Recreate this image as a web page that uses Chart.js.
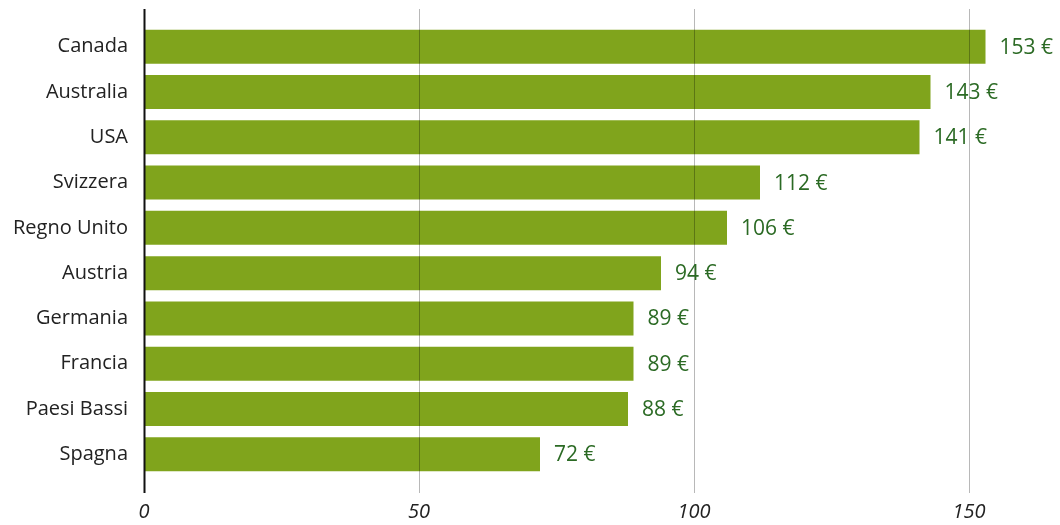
<!DOCTYPE html>
<html>
<head>
<meta charset="utf-8">
<script src="https://cdn.jsdelivr.net/npm/chart.js@4/dist/chart.umd.min.js"></script>
<style>
  html, body { margin: 0; padding: 0; background: #fff; }
  #wrap { width: 1060px; height: 525px; }
</style>
</head>
<body>
<div id="wrap"><canvas id="barchart"></canvas></div>
<script>
const countries = ['Canada', 'Australia', 'USA', 'Svizzera', 'Regno Unito', 'Austria', 'Germania', 'Francia', 'Paesi Bassi', 'Spagna'];
const prices = [153, 143, 141, 112, 106, 94, 89, 89, 88, 72];
const xTicks = [0, 50, 100, 150];

const barColor = '#80a41c';
const labelColor = '#2b6a24';

// grid lines + axis line, drawn over the bars and past the plot area
const frameLines = {
  id: 'frameLines',
  afterDatasetsDraw(chart) {
    const {ctx, scales: {x}} = chart;
    ctx.save();
    xTicks.forEach(t => {
      const px = Math.round(x.getPixelForValue(t)) + 0.5;
      ctx.beginPath();
      ctx.lineWidth = t === 0 ? 2 : 1;
      ctx.strokeStyle = t === 0 ? '#111' : 'rgba(0,0,0,0.28)';
      ctx.moveTo(px, 9);
      ctx.lineTo(px, 493);
      ctx.stroke();
    });
    ctx.restore();
  }
};

// value labels at the end of each bar
const valueLabels = {
  id: 'valueLabels',
  afterDraw(chart) {
    const {ctx} = chart;
    const meta = chart.getDatasetMeta(0);
    ctx.save();
    ctx.font = '21px "Open Sans"';
    ctx.fillStyle = labelColor;
    ctx.textAlign = 'left';
    ctx.textBaseline = 'middle';
    meta.data.forEach((bar, i) => {
      ctx.fillText(prices[i] + ' €', bar.x + 14, bar.y + 1);
    });
    ctx.restore();
  }
};

const configbar = {
  type: 'bar',
  data: {
    labels: countries,
    datasets: [{
      data: prices,
      backgroundColor: barColor,
      borderWidth: 0,
      barPercentage: 0.75,
      categoryPercentage: 1
    }]
  },
  options: {
    indexAxis: 'y',
    responsive: true,
    maintainAspectRatio: false,
    animation: false,
    layout: { padding: { top: 24, right: 3, bottom: 0, left: 0 } },
    plugins: {
      legend: { display: false },
      tooltip: { enabled: false }
    },
    scales: {
      x: {
        min: 0,
        max: 166,
        afterBuildTicks: (scale) => { scale.ticks = xTicks.map(v => ({value: v})); },
        afterFit: (scale) => { scale.height = 48; },
        grid: { display: false, drawTicks: false },
        border: { display: false },
        ticks: {
          padding: 23,
          color: '#222',
          font: { family: 'Open Sans', size: 20, style: 'italic' }
        }
      },
      y: {
        afterFit: (scale) => {
          scale.width = 144;
          scale.paddingTop = 0;
          scale.paddingBottom = 0;
        },
        grid: { display: false, drawTicks: false },
        border: { display: false },
        ticks: {
          padding: 16,
          color: '#222',
          font: { family: 'Open Sans', size: 20 }
        }
      }
    }
  },
  plugins: [frameLines, valueLabels]
};

var barchart = new Chart(
  document.getElementById('barchart').getContext('2d'),
  configbar
);
</script>
</body>
</html>
